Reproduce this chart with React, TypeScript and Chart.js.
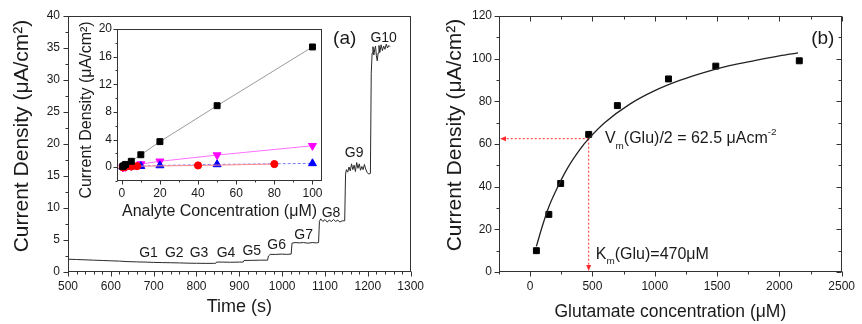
import React, { useEffect, useRef } from "react";
import { Chart, registerables } from "chart.js";

Chart.register(...registerables);

const FONT = "'Liberation Sans', Arial, Helvetica, sans-serif";
const INK = "#1a1a1a";
const AXIS = "#333333";

// ---------- Panel (a): amperometric trace ----------
const traceTime = [
  500, 520, 540, 560, 580, 600, 620, 640, 660, 680, 700, 720, 740, 760, 780, 800, 820, 840, 845,
  847, 860, 880, 900, 909,
  911, 930, 950, 966,
  968, 972, 985, 1000, 1010, 1021,
  1023, 1030, 1040, 1050, 1060, 1070, 1080, 1085,
  1087, 1090, 1095, 1100, 1105, 1110, 1115, 1120, 1125, 1130, 1135, 1140, 1146,
  1148, 1150, 1153, 1156, 1159, 1162, 1165, 1168, 1171, 1174, 1177, 1180, 1183, 1186, 1189, 1192, 1195, 1198, 1202, 1206,
  1208, 1210, 1212, 1214, 1216, 1218, 1220, 1222, 1224, 1226, 1228, 1231, 1234, 1237, 1240, 1243, 1246, 1249, 1252,
];
const traceCurrent = [
  2.0, 1.95, 1.9, 1.85, 1.8, 1.75, 1.7, 1.62, 1.58, 1.55, 1.5, 1.47, 1.45, 1.42, 1.38, 1.36, 1.35, 1.35, 1.36,
  1.55, 1.55, 1.52, 1.55, 1.55,
  1.8, 1.82, 1.85, 1.85,
  2.5, 2.75, 2.75, 2.8, 2.75, 2.8,
  4.5, 4.6, 4.55, 4.6, 4.5, 4.6, 4.55, 4.6,
  7.9, 8.3, 7.9, 8.2, 7.8, 8.1, 7.9, 8.2, 7.9, 8.1, 7.8, 8.0, 8.0,
  15.3, 16.0, 15.6, 16.4, 15.8, 16.9, 16.0, 16.7, 15.7, 17.1, 16.2, 16.9, 15.9, 16.5, 16.0, 16.8, 16.1, 15.6, 15.3, 15.4,
  31.0, 34.2, 35.2, 33.9, 34.8, 35.3, 33.8, 33.0, 34.2, 35.4, 34.3, 35.5, 34.6, 35.3, 34.8, 35.6, 35.0, 35.4, 35.2,
];
const stepLabels = ["G1", "G2", "G3", "G4", "G5", "G6", "G7", "G8", "G9", "G10"];
const stepLabelTime = [688, 748, 806, 869, 929, 987, 1050, 1114, 1168, 1237];
const stepLabelCurrent = [3.0, 3.0, 3.0, 3.0, 3.2, 4.2, 5.8, 9.2, 18.6, 36.5];

// ---------- Inset: analyte calibration ----------
const blackConc = [0.5, 1, 2, 5, 10, 20, 50, 100];
const blackCurrent = [0.1, 0.2, 0.4, 0.85, 1.8, 3.7, 8.9, 17.4];
const magentaConc = [0.5, 1, 2, 5, 10, 20, 50, 100];
const magentaCurrent = [0, 0, 0.05, 0.2, 0.45, 0.85, 1.75, 3.1];
const redConc = [0.5, 1, 2, 5, 8, 40, 80];
const redCurrent = [0, 0, 0.05, 0.1, 0.15, 0.25, 0.45];
const blueConc = [0.5, 1, 2, 5, 10, 20, 50, 100];
const blueCurrent = [0.1, 0.1, 0.1, 0.1, 0.15, 0.25, 0.4, 0.55];

// ---------- Panel (b): Michaelis-Menten ----------
const gluConc = [50, 150, 245, 470, 700, 1110, 1490, 2160];
const gluCurrent = [10, 27, 41.5, 64.5, 78, 90.5, 96.5, 99];
const fitConc = [50, 100, 150, 200, 300, 400, 470, 600, 800, 1000, 1200, 1400, 1600, 1800, 2000, 2150];
const fitCurrent = [12.0, 21.9, 30.6, 37.3, 48.7, 57.5, 62.5, 70.1, 78.7, 85.0, 89.8, 93.6, 96.7, 99.1, 101.3, 102.7];
const kmValue = 470;
const halfVm = 62.5;

const Y_TITLE = "Current Density (μA/cm²)";

const pts = (xs: number[], ys: number[]) => xs.map((x, i) => ({ x, y: ys[i] }));

type Seg = { t: string; sub?: boolean; sup?: boolean };
type Note = { segs: Seg[]; x: number; y: number; size: number; align: "left" | "center" };

const notesPlugin = {
  id: "notes",
  afterDatasetsDraw(chart: any, _a: any, opts: any) {
    const items: Note[] = opts.items || [];
    const { ctx, scales } = chart;
    ctx.save();
    ctx.fillStyle = INK;
    ctx.textBaseline = "middle";
    ctx.textAlign = "left";
    for (const it of items) {
      const px = scales.x.getPixelForValue(it.x);
      const py = scales.y.getPixelForValue(it.y);
      const sizes = it.segs.map((s) => (s.sub || s.sup ? it.size * 0.62 : it.size));
      const widths = it.segs.map((s, i) => {
        ctx.font = `${sizes[i]}px ${FONT}`;
        return ctx.measureText(s.t).width;
      });
      const total = widths.reduce((a, b) => a + b, 0);
      let cx = it.align === "center" ? px - total / 2 : px;
      it.segs.forEach((s, i) => {
        ctx.font = `${sizes[i]}px ${FONT}`;
        const dy = s.sub ? it.size * 0.42 : s.sup ? -it.size * 0.4 : 0;
        ctx.fillText(s.t, cx, py + dy);
        cx += widths[i];
      });
    }
    ctx.restore();
  },
};

// rotated y-axis title (not squeezed to the plot height)
const sideTitlePlugin = {
  id: "sideTitle",
  afterDraw(chart: any, _a: any, opts: any) {
    const { ctx, chartArea: a } = chart;
    ctx.save();
    ctx.fillStyle = INK;
    ctx.font = `${opts.size}px ${FONT}`;
    ctx.textAlign = "center";
    ctx.textBaseline = "middle";
    ctx.translate(opts.x, (a.top + a.bottom) / 2 + (opts.shift || 0));
    ctx.rotate(-Math.PI / 2);
    ctx.fillText(opts.text, 0, 0);
    ctx.restore();
  },
};

const framePlugin = {
  id: "frame",
  afterDatasetsDraw(chart: any, _a: any, opts: any) {
    const { ctx, chartArea: a } = chart;
    const xs = chart.scales.x;
    const ys = chart.scales.y;
    const majLen = opts.majorLen ?? 5;
    const minLen = opts.minorLen ?? 3;
    const mirror = !!opts.mirror;
    ctx.save();
    ctx.strokeStyle = AXIS;
    ctx.lineWidth = 1;
    const L = Math.round(a.left) + 0.5;
    const R = Math.round(a.right) - 0.5;
    const T = Math.round(a.top) + 0.5;
    const B = Math.round(a.bottom) - 0.5;
    ctx.strokeRect(L, T, R - L, B - T);
    const line = (x1: number, y1: number, x2: number, y2: number) => {
      ctx.beginPath();
      ctx.moveTo(x1, y1);
      ctx.lineTo(x2, y2);
      ctx.stroke();
    };
    const collect = (scale: any, step: number) => {
      const majors = scale.ticks.map((t: any) => t.value);
      const minors: number[] = [];
      for (let k = Math.ceil(scale.min / step - 1e-9); k * step <= scale.max + 1e-9; k++) {
        const v = k * step;
        if (!majors.some((m: number) => Math.abs(m - v) < 1e-9)) minors.push(v);
      }
      return [
        ...majors.map((v: number) => [v, majLen]),
        ...minors.map((v) => [v, minLen]),
      ];
    };
    for (const [v, len] of collect(xs, opts.xMinor)) {
      const px = Math.round(xs.getPixelForValue(v)) + 0.5;
      line(px, B, px, B + len);
      if (mirror) line(px, T, px, T + len);
    }
    for (const [v, len] of collect(ys, opts.yMinor)) {
      const py = Math.round(ys.getPixelForValue(v)) + 0.5;
      line(L - len, py, L, py);
      if (mirror) line(R - len, py, R, py);
    }
    ctx.restore();
  },
};

const guidePlugin = {
  id: "guide",
  beforeDatasetsDraw(chart: any, _a: any, opts: any) {
    const { ctx, chartArea: a, scales } = chart;
    const px = scales.x.getPixelForValue(opts.x);
    const py = scales.y.getPixelForValue(opts.y);
    const left = a.left + 1;
    const bottom = a.bottom - 1;
    ctx.save();
    ctx.strokeStyle = "#ff2a2a";
    ctx.fillStyle = "#ff2a2a";
    ctx.lineWidth = 1;
    ctx.setLineDash([2, 2]);
    ctx.beginPath();
    ctx.moveTo(px, py);
    ctx.lineTo(left + 5, py);
    ctx.moveTo(px, py);
    ctx.lineTo(px, bottom - 5);
    ctx.stroke();
    ctx.setLineDash([]);
    ctx.beginPath();
    ctx.moveTo(left, py);
    ctx.lineTo(left + 6, py - 2.5);
    ctx.lineTo(left + 6, py + 2.5);
    ctx.closePath();
    ctx.fill();
    ctx.beginPath();
    ctx.moveTo(px, bottom);
    ctx.lineTo(px - 2.5, bottom - 6);
    ctx.lineTo(px + 2.5, bottom - 6);
    ctx.closePath();
    ctx.fill();
    ctx.restore();
  },
};

function axis(opts: {
  min: number;
  max: number;
  step: number;
  title?: string;
  titleSize?: number;
  fit: number;
  horizontal: boolean;
  pad: number;
  labelSize: number;
}) {
  return {
    type: "linear",
    min: opts.min,
    max: opts.max,
    afterBuildTicks: (s: any) => {
      const out: any[] = [];
      for (let k = Math.ceil(opts.min / opts.step - 1e-9); k * opts.step <= opts.max + 1e-9; k++) {
        out.push({ value: k * opts.step });
      }
      s.ticks = out;
    },
    afterFit: (s: any) => {
      if (opts.horizontal) s.height = opts.fit;
      else s.width = opts.fit;
    },
    ticks: {
      stepSize: opts.step,
      autoSkip: false,
      maxRotation: 0,
      padding: opts.pad,
      color: INK,
      font: { family: FONT, size: opts.labelSize },
      callback: (v: any) => String(v),
    },
    grid: { display: false, drawTicks: false },
    border: { display: false },
    title: {
      display: !!opts.title,
      text: opts.title || "",
      color: INK,
      padding: 0,
      font: { family: FONT, size: opts.titleSize || 12 },
    },
  };
}

function makePanelA(canvas: HTMLCanvasElement) {
  const notes: Note[] = stepLabels.map((t, i) => ({
    segs: [{ t }],
    x: stepLabelTime[i],
    y: stepLabelCurrent[i],
    size: 14,
    align: "center",
  }));
  notes.push({ segs: [{ t: "(a)" }], x: 1146, y: 36.4, size: 19, align: "center" });
  return new Chart(canvas, {
    type: "scatter",
    data: {
      datasets: [
        {
          data: pts(traceTime, traceCurrent),
          showLine: true,
          borderColor: "#2a2a2a",
          borderWidth: 1,
          pointRadius: 0,
          tension: 0,
        },
      ],
    },
    options: {
      animation: false,
      responsive: false,
      devicePixelRatio: 1,
      layout: { padding: { left: 10, top: 16, right: 18, bottom: 6 } },
      plugins: {
        legend: { display: false },
        tooltip: { enabled: false },
        frame: { xMinor: 20, yMinor: 2.5, majorLen: 5, minorLen: 3, mirror: false },
        notes: { items: notes },
        sideTitle: { text: Y_TITLE, size: 21, x: 22, shift: -8 },
      },
      scales: {
        x: axis({ min: 500, max: 1300, step: 100, title: "Time (s)", titleSize: 18, fit: 46, horizontal: true, pad: 7, labelSize: 12 }),
        y: axis({ min: 0, max: 40, step: 5, fit: 58, horizontal: false, pad: 8, labelSize: 12 }),
      },
    } as any,
    plugins: [framePlugin, notesPlugin, sideTitlePlugin],
  } as any);
}

function makeInset(canvas: HTMLCanvasElement) {
  return new Chart(canvas, {
    type: "scatter",
    data: {
      datasets: [
        {
          data: pts(blackConc, blackCurrent),
          showLine: true,
          borderColor: "#9a9a9a",
          borderWidth: 1,
          pointStyle: "rect",
          pointRadius: 4.2,
          pointBackgroundColor: "#000",
          pointBorderColor: "#000",
        },
        {
          data: pts(redConc, redCurrent),
          showLine: true,
          borderColor: "#ff8a8a",
          borderWidth: 1,
          pointStyle: "circle",
          pointRadius: 3.6,
          pointBackgroundColor: "#ff0000",
          pointBorderColor: "#ff0000",
        },
        {
          data: pts(blueConc, blueCurrent),
          showLine: true,
          borderColor: "#7a7aff",
          borderWidth: 1,
          borderDash: [3, 2],
          pointStyle: "triangle",
          pointRadius: 4.6,
          pointBackgroundColor: "#0000ff",
          pointBorderColor: "#0000ff",
        },
        {
          data: pts(magentaConc, magentaCurrent),
          showLine: true,
          borderColor: "#ff70ff",
          borderWidth: 1,
          pointStyle: "triangle",
          pointRotation: 180,
          pointRadius: 4.6,
          pointBackgroundColor: "#ff00ff",
          pointBorderColor: "#ff00ff",
        },
      ],
    },
    options: {
      animation: false,
      responsive: false,
      devicePixelRatio: 1,
      layout: { padding: { left: 5, top: 17, right: 8, bottom: 3 } },
      plugins: {
        legend: { display: false },
        tooltip: { enabled: false },
        frame: { xMinor: 10, yMinor: 2, majorLen: 4, minorLen: 2, mirror: false },
        sideTitle: { text: Y_TITLE, size: 16, x: 15, shift: 5 },
      },
      scales: {
        x: axis({ min: -2.5, max: 105, step: 20, title: "Analyte Concentration (μM)", titleSize: 16, fit: 40, horizontal: true, pad: 5, labelSize: 12 }),
        y: axis({ min: -2, max: 20, step: 4, fit: 40, horizontal: false, pad: 5, labelSize: 12 }),
      },
    } as any,
    plugins: [framePlugin, sideTitlePlugin],
  } as any);
}

function makePanelB(canvas: HTMLCanvasElement) {
  const notes: Note[] = [
    { segs: [{ t: "(b)" }], x: 2349, y: 109.5, size: 19, align: "center" },
    {
      segs: [{ t: "V" }, { t: "m", sub: true }, { t: "(Glu)/2 = 62.5 μAcm" }, { t: "-2", sup: true }],
      x: 600,
      y: 62.3,
      size: 16,
      align: "left",
    },
    {
      segs: [{ t: "K" }, { t: "m", sub: true }, { t: "(Glu)=470μM" }],
      x: 527,
      y: 8,
      size: 16,
      align: "left",
    },
  ];
  return new Chart(canvas, {
    type: "scatter",
    data: {
      datasets: [
        {
          data: pts(fitConc, fitCurrent),
          showLine: true,
          borderColor: "#222",
          borderWidth: 1.3,
          pointRadius: 0,
          cubicInterpolationMode: "monotone",
        },
        {
          data: pts(gluConc, gluCurrent),
          showLine: false,
          pointStyle: "rect",
          pointRadius: 4.2,
          pointBackgroundColor: "#000",
          pointBorderColor: "#000",
        },
      ],
    },
    options: {
      animation: false,
      responsive: false,
      devicePixelRatio: 1,
      layout: { padding: { left: 11, top: 16, right: 17, bottom: 1 } },
      plugins: {
        legend: { display: false },
        tooltip: { enabled: false },
        frame: { xMinor: 250, yMinor: 10, majorLen: 5, minorLen: 3, mirror: true },
        guide: { x: kmValue, y: halfVm },
        notes: { items: notes },
        sideTitle: { text: Y_TITLE, size: 21, x: 24, shift: -9 },
      },
      scales: {
        x: axis({ min: -250, max: 2500, step: 500, title: "Glutamate concentration (μM)", titleSize: 17.5, fit: 51, horizontal: true, pad: 7, labelSize: 12 }),
        y: axis({ min: 0, max: 120, step: 20, fit: 57, horizontal: false, pad: 7, labelSize: 12 }),
      },
    } as any,
    plugins: [guidePlugin, framePlugin, notesPlugin, sideTitlePlugin],
  } as any);
}

export default function App() {
  const aRef = useRef<HTMLCanvasElement>(null);
  const insetRef = useRef<HTMLCanvasElement>(null);
  const bRef = useRef<HTMLCanvasElement>(null);

  useEffect(() => {
    const charts = [
      makePanelA(aRef.current as HTMLCanvasElement),
      makeInset(insetRef.current as HTMLCanvasElement),
      makePanelB(bRef.current as HTMLCanvasElement),
    ];
    return () => charts.forEach((c) => c.destroy());
  }, []);

  return (
    <div style={{ position: "fixed", left: 0, top: 0, width: 862, height: 324, background: "#fff" }}>
      <canvas ref={aRef} width={431} height={324} style={{ position: "absolute", left: 0, top: 0 }} />
      <canvas ref={insetRef} width={258} height={212} style={{ position: "absolute", left: 72, top: 12 }} />
      <canvas ref={bRef} width={431} height={324} style={{ position: "absolute", left: 431, top: 0 }} />
    </div>
  );
}
